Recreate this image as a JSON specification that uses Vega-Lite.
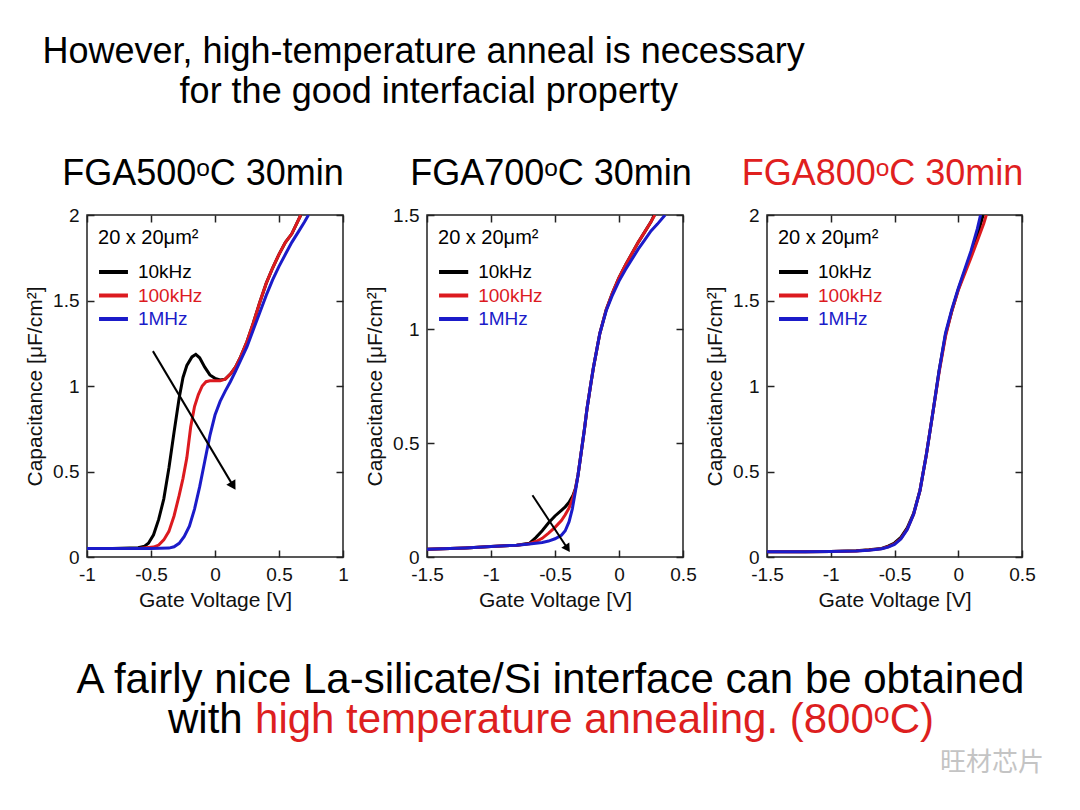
{
"$schema": "https://vega.github.io/schema/vega-lite/v6.json",
"padding": {"left": 23, "top": 0, "right": 5, "bottom": 5},
"background": "white",
"config": {
  "font": "Liberation Sans",
  "view": {"stroke": "#222", "strokeWidth": 1.5},
  "axis": {"domain": false, "grid": false, "tickSize": -7, "tickWidth": 1.5, "tickColor": "#222",
    "labelFont": "Liberation Sans", "labelFontSize": 19, "labelColor": "#111", "labelFlush": false, "labelOverlap": false, "labelPadding": 15,
    "labelExpr": "'' + datum.value",
    "titleFont": "Liberation Sans", "titleFontSize": 21, "titleFontWeight": "normal", "titleColor": "#111", "titlePadding": 5},
  "axisY": {"titlePadding": 7},
  "title": {"font": "Liberation Sans", "fontSize": 36, "fontWeight": "normal", "baseline": "alphabetic", "offset": 13, "anchor": "middle", "color": "#000"}
},
"datasets": {
  "legend": [{"s": "10kHz"}, {"s": "100kHz"}, {"s": "1MHz"}],
  "curves": [
{"p":"FGA500","s":"10kHz","v":-1,"c":0.05},{"p":"FGA500","s":"10kHz","v":-0.8,"c":0.05},{"p":"FGA500","s":"10kHz","v":-0.6,"c":0.054},{"p":"FGA500","s":"10kHz","v":-0.55,"c":0.063},{"p":"FGA500","s":"10kHz","v":-0.52,"c":0.08},{"p":"FGA500","s":"10kHz","v":-0.48,"c":0.13},{"p":"FGA500","s":"10kHz","v":-0.44,"c":0.22},{"p":"FGA500","s":"10kHz","v":-0.4,"c":0.34},{"p":"FGA500","s":"10kHz","v":-0.36,"c":0.52},{"p":"FGA500","s":"10kHz","v":-0.32,"c":0.73},{"p":"FGA500","s":"10kHz","v":-0.28,"c":0.93},{"p":"FGA500","s":"10kHz","v":-0.25,"c":1.05},{"p":"FGA500","s":"10kHz","v":-0.22,"c":1.12},{"p":"FGA500","s":"10kHz","v":-0.18,"c":1.17},{"p":"FGA500","s":"10kHz","v":-0.15,"c":1.185},{"p":"FGA500","s":"10kHz","v":-0.12,"c":1.165},{"p":"FGA500","s":"10kHz","v":-0.08,"c":1.11},{"p":"FGA500","s":"10kHz","v":-0.04,"c":1.065},{"p":"FGA500","s":"10kHz","v":0,"c":1.045},{"p":"FGA500","s":"10kHz","v":0.04,"c":1.035},{"p":"FGA500","s":"10kHz","v":0.08,"c":1.04},{"p":"FGA500","s":"10kHz","v":0.12,"c":1.07},{"p":"FGA500","s":"10kHz","v":0.16,"c":1.11},{"p":"FGA500","s":"10kHz","v":0.2,"c":1.17},{"p":"FGA500","s":"10kHz","v":0.25,"c":1.26},{"p":"FGA500","s":"10kHz","v":0.3,"c":1.37},{"p":"FGA500","s":"10kHz","v":0.35,"c":1.49},{"p":"FGA500","s":"10kHz","v":0.4,"c":1.6},{"p":"FGA500","s":"10kHz","v":0.45,"c":1.69},{"p":"FGA500","s":"10kHz","v":0.5,"c":1.77},{"p":"FGA500","s":"10kHz","v":0.55,"c":1.84},{"p":"FGA500","s":"10kHz","v":0.6,"c":1.89},{"p":"FGA500","s":"10kHz","v":0.67,"c":2.0},
{"p":"FGA500","s":"100kHz","v":-1,"c":0.05},{"p":"FGA500","s":"100kHz","v":-0.6,"c":0.05},{"p":"FGA500","s":"100kHz","v":-0.48,"c":0.058},{"p":"FGA500","s":"100kHz","v":-0.44,"c":0.07},{"p":"FGA500","s":"100kHz","v":-0.4,"c":0.1},{"p":"FGA500","s":"100kHz","v":-0.36,"c":0.15},{"p":"FGA500","s":"100kHz","v":-0.32,"c":0.24},{"p":"FGA500","s":"100kHz","v":-0.28,"c":0.36},{"p":"FGA500","s":"100kHz","v":-0.25,"c":0.46},{"p":"FGA500","s":"100kHz","v":-0.22,"c":0.58},{"p":"FGA500","s":"100kHz","v":-0.19,"c":0.76},{"p":"FGA500","s":"100kHz","v":-0.16,"c":0.88},{"p":"FGA500","s":"100kHz","v":-0.13,"c":0.95},{"p":"FGA500","s":"100kHz","v":-0.1,"c":1.0},{"p":"FGA500","s":"100kHz","v":-0.07,"c":1.025},{"p":"FGA500","s":"100kHz","v":-0.04,"c":1.03},{"p":"FGA500","s":"100kHz","v":0,"c":1.03},{"p":"FGA500","s":"100kHz","v":0.04,"c":1.03},{"p":"FGA500","s":"100kHz","v":0.08,"c":1.04},{"p":"FGA500","s":"100kHz","v":0.12,"c":1.07},{"p":"FGA500","s":"100kHz","v":0.16,"c":1.11},{"p":"FGA500","s":"100kHz","v":0.2,"c":1.17},{"p":"FGA500","s":"100kHz","v":0.25,"c":1.26},{"p":"FGA500","s":"100kHz","v":0.3,"c":1.37},{"p":"FGA500","s":"100kHz","v":0.35,"c":1.49},{"p":"FGA500","s":"100kHz","v":0.4,"c":1.6},{"p":"FGA500","s":"100kHz","v":0.45,"c":1.69},{"p":"FGA500","s":"100kHz","v":0.5,"c":1.77},{"p":"FGA500","s":"100kHz","v":0.55,"c":1.84},{"p":"FGA500","s":"100kHz","v":0.6,"c":1.89},{"p":"FGA500","s":"100kHz","v":0.67,"c":2.0},
{"p":"FGA500","s":"1MHz","v":-1,"c":0.05},{"p":"FGA500","s":"1MHz","v":-0.5,"c":0.05},{"p":"FGA500","s":"1MHz","v":-0.36,"c":0.052},{"p":"FGA500","s":"1MHz","v":-0.32,"c":0.06},{"p":"FGA500","s":"1MHz","v":-0.28,"c":0.08},{"p":"FGA500","s":"1MHz","v":-0.24,"c":0.12},{"p":"FGA500","s":"1MHz","v":-0.2,"c":0.18},{"p":"FGA500","s":"1MHz","v":-0.16,"c":0.28},{"p":"FGA500","s":"1MHz","v":-0.12,"c":0.41},{"p":"FGA500","s":"1MHz","v":-0.08,"c":0.56},{"p":"FGA500","s":"1MHz","v":-0.04,"c":0.71},{"p":"FGA500","s":"1MHz","v":0,"c":0.83},{"p":"FGA500","s":"1MHz","v":0.04,"c":0.91},{"p":"FGA500","s":"1MHz","v":0.08,"c":0.97},{"p":"FGA500","s":"1MHz","v":0.12,"c":1.025},{"p":"FGA500","s":"1MHz","v":0.16,"c":1.085},{"p":"FGA500","s":"1MHz","v":0.2,"c":1.15},{"p":"FGA500","s":"1MHz","v":0.25,"c":1.23},{"p":"FGA500","s":"1MHz","v":0.3,"c":1.33},{"p":"FGA500","s":"1MHz","v":0.35,"c":1.43},{"p":"FGA500","s":"1MHz","v":0.4,"c":1.53},{"p":"FGA500","s":"1MHz","v":0.45,"c":1.62},{"p":"FGA500","s":"1MHz","v":0.5,"c":1.7},{"p":"FGA500","s":"1MHz","v":0.55,"c":1.77},{"p":"FGA500","s":"1MHz","v":0.6,"c":1.84},{"p":"FGA500","s":"1MHz","v":0.65,"c":1.9},{"p":"FGA500","s":"1MHz","v":0.7,"c":1.96},{"p":"FGA500","s":"1MHz","v":0.73,"c":2.0},
{"p":"FGA700","s":"10kHz","v":-1.5,"c":0.034},{"p":"FGA700","s":"10kHz","v":-1.2,"c":0.04},{"p":"FGA700","s":"10kHz","v":-1,"c":0.046},{"p":"FGA700","s":"10kHz","v":-0.8,"c":0.052},{"p":"FGA700","s":"10kHz","v":-0.7,"c":0.06},{"p":"FGA700","s":"10kHz","v":-0.65,"c":0.085},{"p":"FGA700","s":"10kHz","v":-0.6,"c":0.115},{"p":"FGA700","s":"10kHz","v":-0.55,"c":0.15},{"p":"FGA700","s":"10kHz","v":-0.5,"c":0.18},{"p":"FGA700","s":"10kHz","v":-0.45,"c":0.205},{"p":"FGA700","s":"10kHz","v":-0.42,"c":0.22},{"p":"FGA700","s":"10kHz","v":-0.39,"c":0.24},{"p":"FGA700","s":"10kHz","v":-0.36,"c":0.27},{"p":"FGA700","s":"10kHz","v":-0.34,"c":0.3},{"p":"FGA700","s":"10kHz","v":-0.32,"c":0.36},{"p":"FGA700","s":"10kHz","v":-0.3,"c":0.44},{"p":"FGA700","s":"10kHz","v":-0.27,"c":0.56},{"p":"FGA700","s":"10kHz","v":-0.25,"c":0.65},{"p":"FGA700","s":"10kHz","v":-0.22,"c":0.76},{"p":"FGA700","s":"10kHz","v":-0.2,"c":0.83},{"p":"FGA700","s":"10kHz","v":-0.17,"c":0.92},{"p":"FGA700","s":"10kHz","v":-0.15,"c":0.98},{"p":"FGA700","s":"10kHz","v":-0.1,"c":1.085},{"p":"FGA700","s":"10kHz","v":-0.05,"c":1.16},{"p":"FGA700","s":"10kHz","v":0,"c":1.225},{"p":"FGA700","s":"10kHz","v":0.05,"c":1.28},{"p":"FGA700","s":"10kHz","v":0.1,"c":1.33},{"p":"FGA700","s":"10kHz","v":0.15,"c":1.38},{"p":"FGA700","s":"10kHz","v":0.2,"c":1.425},{"p":"FGA700","s":"10kHz","v":0.25,"c":1.47},{"p":"FGA700","s":"10kHz","v":0.275,"c":1.5},
{"p":"FGA700","s":"100kHz","v":-1.5,"c":0.034},{"p":"FGA700","s":"100kHz","v":-1.2,"c":0.04},{"p":"FGA700","s":"100kHz","v":-1,"c":0.046},{"p":"FGA700","s":"100kHz","v":-0.8,"c":0.052},{"p":"FGA700","s":"100kHz","v":-0.7,"c":0.058},{"p":"FGA700","s":"100kHz","v":-0.65,"c":0.068},{"p":"FGA700","s":"100kHz","v":-0.6,"c":0.082},{"p":"FGA700","s":"100kHz","v":-0.55,"c":0.105},{"p":"FGA700","s":"100kHz","v":-0.5,"c":0.13},{"p":"FGA700","s":"100kHz","v":-0.45,"c":0.16},{"p":"FGA700","s":"100kHz","v":-0.42,"c":0.185},{"p":"FGA700","s":"100kHz","v":-0.39,"c":0.215},{"p":"FGA700","s":"100kHz","v":-0.36,"c":0.26},{"p":"FGA700","s":"100kHz","v":-0.34,"c":0.3},{"p":"FGA700","s":"100kHz","v":-0.32,"c":0.36},{"p":"FGA700","s":"100kHz","v":-0.3,"c":0.44},{"p":"FGA700","s":"100kHz","v":-0.27,"c":0.56},{"p":"FGA700","s":"100kHz","v":-0.25,"c":0.65},{"p":"FGA700","s":"100kHz","v":-0.22,"c":0.76},{"p":"FGA700","s":"100kHz","v":-0.2,"c":0.83},{"p":"FGA700","s":"100kHz","v":-0.17,"c":0.92},{"p":"FGA700","s":"100kHz","v":-0.15,"c":0.98},{"p":"FGA700","s":"100kHz","v":-0.1,"c":1.085},{"p":"FGA700","s":"100kHz","v":-0.05,"c":1.16},{"p":"FGA700","s":"100kHz","v":0,"c":1.225},{"p":"FGA700","s":"100kHz","v":0.05,"c":1.28},{"p":"FGA700","s":"100kHz","v":0.1,"c":1.33},{"p":"FGA700","s":"100kHz","v":0.15,"c":1.38},{"p":"FGA700","s":"100kHz","v":0.2,"c":1.425},{"p":"FGA700","s":"100kHz","v":0.25,"c":1.47},{"p":"FGA700","s":"100kHz","v":0.28,"c":1.5},
{"p":"FGA700","s":"1MHz","v":-1.5,"c":0.034},{"p":"FGA700","s":"1MHz","v":-1.2,"c":0.04},{"p":"FGA700","s":"1MHz","v":-1,"c":0.046},{"p":"FGA700","s":"1MHz","v":-0.8,"c":0.052},{"p":"FGA700","s":"1MHz","v":-0.7,"c":0.057},{"p":"FGA700","s":"1MHz","v":-0.6,"c":0.064},{"p":"FGA700","s":"1MHz","v":-0.55,"c":0.07},{"p":"FGA700","s":"1MHz","v":-0.5,"c":0.08},{"p":"FGA700","s":"1MHz","v":-0.45,"c":0.095},{"p":"FGA700","s":"1MHz","v":-0.42,"c":0.115},{"p":"FGA700","s":"1MHz","v":-0.39,"c":0.155},{"p":"FGA700","s":"1MHz","v":-0.365,"c":0.21},{"p":"FGA700","s":"1MHz","v":-0.34,"c":0.29},{"p":"FGA700","s":"1MHz","v":-0.32,"c":0.36},{"p":"FGA700","s":"1MHz","v":-0.3,"c":0.44},{"p":"FGA700","s":"1MHz","v":-0.27,"c":0.56},{"p":"FGA700","s":"1MHz","v":-0.25,"c":0.65},{"p":"FGA700","s":"1MHz","v":-0.22,"c":0.76},{"p":"FGA700","s":"1MHz","v":-0.2,"c":0.83},{"p":"FGA700","s":"1MHz","v":-0.17,"c":0.92},{"p":"FGA700","s":"1MHz","v":-0.15,"c":0.98},{"p":"FGA700","s":"1MHz","v":-0.1,"c":1.08},{"p":"FGA700","s":"1MHz","v":-0.05,"c":1.15},{"p":"FGA700","s":"1MHz","v":0,"c":1.21},{"p":"FGA700","s":"1MHz","v":0.05,"c":1.26},{"p":"FGA700","s":"1MHz","v":0.1,"c":1.305},{"p":"FGA700","s":"1MHz","v":0.15,"c":1.35},{"p":"FGA700","s":"1MHz","v":0.2,"c":1.39},{"p":"FGA700","s":"1MHz","v":0.25,"c":1.43},{"p":"FGA700","s":"1MHz","v":0.3,"c":1.46},{"p":"FGA700","s":"1MHz","v":0.36,"c":1.5},
{"p":"FGA800","s":"10kHz","v":-1.5,"c":0.03},{"p":"FGA800","s":"10kHz","v":-1.2,"c":0.03},{"p":"FGA800","s":"10kHz","v":-1,"c":0.032},{"p":"FGA800","s":"10kHz","v":-0.8,"c":0.036},{"p":"FGA800","s":"10kHz","v":-0.7,"c":0.042},{"p":"FGA800","s":"10kHz","v":-0.6,"c":0.05},{"p":"FGA800","s":"10kHz","v":-0.55,"c":0.064},{"p":"FGA800","s":"10kHz","v":-0.5,"c":0.082},{"p":"FGA800","s":"10kHz","v":-0.45,"c":0.115},{"p":"FGA800","s":"10kHz","v":-0.4,"c":0.17},{"p":"FGA800","s":"10kHz","v":-0.35,"c":0.255},{"p":"FGA800","s":"10kHz","v":-0.3,"c":0.39},{"p":"FGA800","s":"10kHz","v":-0.25,"c":0.6},{"p":"FGA800","s":"10kHz","v":-0.2,"c":0.84},{"p":"FGA800","s":"10kHz","v":-0.15,"c":1.09},{"p":"FGA800","s":"10kHz","v":-0.1,"c":1.3},{"p":"FGA800","s":"10kHz","v":-0.05,"c":1.44},{"p":"FGA800","s":"10kHz","v":0,"c":1.565},{"p":"FGA800","s":"10kHz","v":0.05,"c":1.67},{"p":"FGA800","s":"10kHz","v":0.1,"c":1.77},{"p":"FGA800","s":"10kHz","v":0.15,"c":1.88},{"p":"FGA800","s":"10kHz","v":0.195,"c":2.0},
{"p":"FGA800","s":"100kHz","v":-1.5,"c":0.03},{"p":"FGA800","s":"100kHz","v":-1.2,"c":0.03},{"p":"FGA800","s":"100kHz","v":-1,"c":0.032},{"p":"FGA800","s":"100kHz","v":-0.8,"c":0.035},{"p":"FGA800","s":"100kHz","v":-0.7,"c":0.041},{"p":"FGA800","s":"100kHz","v":-0.6,"c":0.049},{"p":"FGA800","s":"100kHz","v":-0.55,"c":0.06},{"p":"FGA800","s":"100kHz","v":-0.5,"c":0.077},{"p":"FGA800","s":"100kHz","v":-0.45,"c":0.108},{"p":"FGA800","s":"100kHz","v":-0.4,"c":0.163},{"p":"FGA800","s":"100kHz","v":-0.35,"c":0.25},{"p":"FGA800","s":"100kHz","v":-0.3,"c":0.39},{"p":"FGA800","s":"100kHz","v":-0.25,"c":0.6},{"p":"FGA800","s":"100kHz","v":-0.2,"c":0.84},{"p":"FGA800","s":"100kHz","v":-0.15,"c":1.08},{"p":"FGA800","s":"100kHz","v":-0.1,"c":1.29},{"p":"FGA800","s":"100kHz","v":-0.05,"c":1.44},{"p":"FGA800","s":"100kHz","v":0,"c":1.56},{"p":"FGA800","s":"100kHz","v":0.05,"c":1.655},{"p":"FGA800","s":"100kHz","v":0.1,"c":1.75},{"p":"FGA800","s":"100kHz","v":0.15,"c":1.85},{"p":"FGA800","s":"100kHz","v":0.2,"c":1.95},{"p":"FGA800","s":"100kHz","v":0.22,"c":2.0},
{"p":"FGA800","s":"1MHz","v":-1.5,"c":0.03},{"p":"FGA800","s":"1MHz","v":-1.2,"c":0.03},{"p":"FGA800","s":"1MHz","v":-1,"c":0.032},{"p":"FGA800","s":"1MHz","v":-0.8,"c":0.035},{"p":"FGA800","s":"1MHz","v":-0.7,"c":0.04},{"p":"FGA800","s":"1MHz","v":-0.6,"c":0.048},{"p":"FGA800","s":"1MHz","v":-0.55,"c":0.058},{"p":"FGA800","s":"1MHz","v":-0.5,"c":0.074},{"p":"FGA800","s":"1MHz","v":-0.45,"c":0.105},{"p":"FGA800","s":"1MHz","v":-0.4,"c":0.16},{"p":"FGA800","s":"1MHz","v":-0.35,"c":0.25},{"p":"FGA800","s":"1MHz","v":-0.3,"c":0.39},{"p":"FGA800","s":"1MHz","v":-0.25,"c":0.6},{"p":"FGA800","s":"1MHz","v":-0.2,"c":0.84},{"p":"FGA800","s":"1MHz","v":-0.15,"c":1.09},{"p":"FGA800","s":"1MHz","v":-0.1,"c":1.31},{"p":"FGA800","s":"1MHz","v":-0.05,"c":1.45},{"p":"FGA800","s":"1MHz","v":0,"c":1.57},{"p":"FGA800","s":"1MHz","v":0.05,"c":1.68},{"p":"FGA800","s":"1MHz","v":0.1,"c":1.79},{"p":"FGA800","s":"1MHz","v":0.15,"c":1.92},{"p":"FGA800","s":"1MHz","v":0.175,"c":2.0}
  ]
},
"spacing": 0,
"bounds": "full",
"vconcat": [
  {
    "width": 935, "height": 155,
    "view": {"stroke": null},
    "data": {"values": [{}]},
    "layer": [
      {"mark": {"type": "text", "text": "However, high-temperature anneal is necessary", "fontSize": 36, "align": "center", "baseline": "alphabetic", "color": "#000"},
       "encoding": {"x": {"datum": 0.36, "type": "quantitative", "scale": {"domain": [0, 1]}, "axis": null},
                    "y": {"datum": 0.4065, "type": "quantitative", "scale": {"domain": [0, 1], "reverse": true}, "axis": null}}},
      {"mark": {"type": "text", "text": "for the good interfacial property", "fontSize": 36, "align": "center", "baseline": "alphabetic", "color": "#000"},
       "encoding": {"x": {"datum": 0.3655, "type": "quantitative", "scale": {"domain": [0, 1]}, "axis": null},
                    "y": {"datum": 0.6645, "type": "quantitative", "scale": {"domain": [0, 1], "reverse": true}, "axis": null}}}
    ]
  },
  {
    "hconcat": [
      {
        "width": 256, "height": 342,
        "title": {"text": "FGA500ᵒC 30min", "dx": -12},
        "layer": [
          {"data": {"name": "curves"}, "transform": [{"filter": "datum.p == 'FGA500'"}],
           "mark": {"type": "line", "strokeWidth": 3, "clip": true},
           "encoding": {
             "x": {"field": "v", "type": "quantitative", "scale": {"domain": [-1, 1], "nice": false}, "axis": {"orient": "bottom", "values": [-1, -0.5, 0, 0.5, 1], "title": "Gate Voltage [V]"}},
             "y": {"field": "c", "type": "quantitative", "scale": {"domain": [0, 2], "nice": false}, "axis": {"orient": "left", "values": [0, 0.5, 1, 1.5, 2], "title": "Capacitance [μF/cm²]"}},
             "color": {"field": "s", "type": "nominal", "scale": {"domain": ["10kHz", "100kHz", "1MHz"], "range": ["#000000", "#dc1a1f", "#1b1bc9"]}, "legend": null}}},
          {"data": {"name": "curves"}, "transform": [{"filter": "datum.p == 'FGA500'"}],
           "mark": {"type": "point", "opacity": 0},
           "encoding": {
             "x": {"field": "v", "type": "quantitative", "scale": {"domain": [-1, 1], "nice": false}, "axis": {"orient": "top", "values": [-1, -0.5, 0, 0.5, 1], "labels": false, "title": null}},
             "y": {"field": "c", "type": "quantitative", "scale": {"domain": [0, 2], "nice": false}, "axis": {"orient": "right", "values": [0, 0.5, 1, 1.5, 2], "labels": false, "title": null}}}},
          {"data": {"name": "legend"},
           "mark": {"type": "rule", "strokeWidth": 4},
           "encoding": {
             "x": {"datum": -0.906, "type": "quantitative", "scale": {"domain": [-1, 1], "nice": false}, "axis": null},
             "x2": {"datum": -0.68},
             "y": {"field": "s", "type": "nominal", "scale": {"type": "point", "domain": ["10kHz", "100kHz", "1MHz"], "range": [57, 104], "padding": 0}, "axis": null},
             "color": {"field": "s", "type": "nominal", "legend": null}}},
          {"data": {"name": "legend"},
           "mark": {"type": "text", "align": "left", "baseline": "middle", "fontSize": 19},
           "encoding": {
             "x": {"datum": -0.602, "type": "quantitative", "scale": {"domain": [-1, 1], "nice": false}, "axis": null},
             "y": {"field": "s", "type": "nominal", "scale": {"type": "point", "domain": ["10kHz", "100kHz", "1MHz"], "range": [57, 104], "padding": 0}, "axis": null},
             "text": {"field": "s"},
             "color": {"field": "s", "type": "nominal", "legend": null}}},
          {"data": {"values": [{}]},
           "mark": {"type": "text", "text": "20 x 20μm²", "align": "left", "baseline": "middle", "fontSize": 20, "color": "#000"},
           "encoding": {
             "x": {"datum": -0.914, "type": "quantitative", "scale": {"domain": [-1, 1], "nice": false}, "axis": null},
             "y": {"datum": 1.865, "type": "quantitative", "scale": {"domain": [0, 2], "nice": false}, "axis": null}}},
          {"data": {"values": [{}]},
           "mark": {"type": "rule", "strokeWidth": 2, "color": "#000"},
           "encoding": {
             "x": {"datum": -0.485, "type": "quantitative", "scale": {"domain": [-1, 1], "nice": false}, "axis": null},
             "y": {"datum": 1.204, "type": "quantitative", "scale": {"domain": [0, 2], "nice": false}, "axis": null},
             "x2": {"datum": 0.142}, "y2": {"datum": 0.416}}},
          {"data": {"values": [{}]},
           "mark": {"type": "point", "shape": "triangle-up", "filled": true, "size": 110, "angle": 149, "color": "#000", "opacity": 1},
           "encoding": {
             "x": {"datum": 0.142, "type": "quantitative", "scale": {"domain": [-1, 1], "nice": false}, "axis": null},
             "y": {"datum": 0.416, "type": "quantitative", "scale": {"domain": [0, 2], "nice": false}, "axis": null}}}
        ],
        "resolve": {"scale": {"y": "independent"}, "axis": {"x": "independent", "y": "independent"}}
      },
      {
        "width": 256, "height": 342,
        "title": {"text": "FGA700ᵒC 30min", "dx": -4},
        "layer": [
          {"data": {"name": "curves"}, "transform": [{"filter": "datum.p == 'FGA700'"}],
           "mark": {"type": "line", "strokeWidth": 3, "clip": true},
           "encoding": {
             "x": {"field": "v", "type": "quantitative", "scale": {"domain": [-1.5, 0.5], "nice": false}, "axis": {"orient": "bottom", "values": [-1.5, -1, -0.5, 0, 0.5], "title": "Gate Voltage [V]"}},
             "y": {"field": "c", "type": "quantitative", "scale": {"domain": [0, 1.5], "nice": false}, "axis": {"orient": "left", "values": [0, 0.5, 1, 1.5], "title": "Capacitance [μF/cm²]"}},
             "color": {"field": "s", "type": "nominal", "scale": {"domain": ["10kHz", "100kHz", "1MHz"], "range": ["#000000", "#dc1a1f", "#1b1bc9"]}, "legend": null}}},
          {"data": {"name": "curves"}, "transform": [{"filter": "datum.p == 'FGA700'"}],
           "mark": {"type": "point", "opacity": 0},
           "encoding": {
             "x": {"field": "v", "type": "quantitative", "scale": {"domain": [-1.5, 0.5], "nice": false}, "axis": {"orient": "top", "values": [-1.5, -1, -0.5, 0, 0.5], "labels": false, "title": null}},
             "y": {"field": "c", "type": "quantitative", "scale": {"domain": [0, 1.5], "nice": false}, "axis": {"orient": "right", "values": [0, 0.5, 1, 1.5], "labels": false, "title": null}}}},
          {"data": {"name": "legend"},
           "mark": {"type": "rule", "strokeWidth": 4},
           "encoding": {
             "x": {"datum": -1.406, "type": "quantitative", "scale": {"domain": [-1.5, 0.5], "nice": false}, "axis": null},
             "x2": {"datum": -1.178},
             "y": {"field": "s", "type": "nominal", "scale": {"type": "point", "domain": ["10kHz", "100kHz", "1MHz"], "range": [57, 104], "padding": 0}, "axis": null},
             "color": {"field": "s", "type": "nominal", "legend": null}}},
          {"data": {"name": "legend"},
           "mark": {"type": "text", "align": "left", "baseline": "middle", "fontSize": 19},
           "encoding": {
             "x": {"datum": -1.1, "type": "quantitative", "scale": {"domain": [-1.5, 0.5], "nice": false}, "axis": null},
             "y": {"field": "s", "type": "nominal", "scale": {"type": "point", "domain": ["10kHz", "100kHz", "1MHz"], "range": [57, 104], "padding": 0}, "axis": null},
             "text": {"field": "s"},
             "color": {"field": "s", "type": "nominal", "legend": null}}},
          {"data": {"values": [{}]},
           "mark": {"type": "text", "text": "20 x 20μm²", "align": "left", "baseline": "middle", "fontSize": 20, "color": "#000"},
           "encoding": {
             "x": {"datum": -1.414, "type": "quantitative", "scale": {"domain": [-1.5, 0.5], "nice": false}, "axis": null},
             "y": {"datum": 1.399, "type": "quantitative", "scale": {"domain": [0, 1.5], "nice": false}, "axis": null}}},
          {"data": {"values": [{}]},
           "mark": {"type": "rule", "strokeWidth": 2, "color": "#000"},
           "encoding": {
             "x": {"datum": -0.676, "type": "quantitative", "scale": {"domain": [-1.5, 0.5], "nice": false}, "axis": null},
             "y": {"datum": 0.271, "type": "quantitative", "scale": {"domain": [0, 1.5], "nice": false}, "axis": null},
             "x2": {"datum": -0.402}, "y2": {"datum": 0.037}}},
          {"data": {"values": [{}]},
           "mark": {"type": "point", "shape": "triangle-up", "filled": true, "size": 90, "angle": 147, "color": "#000", "opacity": 1},
           "encoding": {
             "x": {"datum": -0.402, "type": "quantitative", "scale": {"domain": [-1.5, 0.5], "nice": false}, "axis": null},
             "y": {"datum": 0.037, "type": "quantitative", "scale": {"domain": [0, 1.5], "nice": false}, "axis": null}}}
        ],
        "resolve": {"scale": {"y": "independent"}, "axis": {"x": "independent", "y": "independent"}}
      },
      {
        "width": 255, "height": 342,
        "title": {"text": "FGA800ᵒC 30min", "color": "#e0201e", "dx": -12},
        "layer": [
          {"data": {"name": "curves"}, "transform": [{"filter": "datum.p == 'FGA800'"}],
           "mark": {"type": "line", "strokeWidth": 3, "clip": true},
           "encoding": {
             "x": {"field": "v", "type": "quantitative", "scale": {"domain": [-1.5, 0.5], "nice": false}, "axis": {"orient": "bottom", "values": [-1.5, -1, -0.5, 0, 0.5], "title": "Gate Voltage [V]"}},
             "y": {"field": "c", "type": "quantitative", "scale": {"domain": [0, 2], "nice": false}, "axis": {"orient": "left", "values": [0, 0.5, 1, 1.5, 2], "title": "Capacitance [μF/cm²]"}},
             "color": {"field": "s", "type": "nominal", "scale": {"domain": ["10kHz", "100kHz", "1MHz"], "range": ["#000000", "#dc1a1f", "#1b1bc9"]}, "legend": null}}},
          {"data": {"name": "curves"}, "transform": [{"filter": "datum.p == 'FGA800'"}],
           "mark": {"type": "point", "opacity": 0},
           "encoding": {
             "x": {"field": "v", "type": "quantitative", "scale": {"domain": [-1.5, 0.5], "nice": false}, "axis": {"orient": "top", "values": [-1.5, -1, -0.5, 0, 0.5], "labels": false, "title": null}},
             "y": {"field": "c", "type": "quantitative", "scale": {"domain": [0, 2], "nice": false}, "axis": {"orient": "right", "values": [0, 0.5, 1, 1.5, 2], "labels": false, "title": null}}}},
          {"data": {"name": "legend"},
           "mark": {"type": "rule", "strokeWidth": 4},
           "encoding": {
             "x": {"datum": -1.406, "type": "quantitative", "scale": {"domain": [-1.5, 0.5], "nice": false}, "axis": null},
             "x2": {"datum": -1.178},
             "y": {"field": "s", "type": "nominal", "scale": {"type": "point", "domain": ["10kHz", "100kHz", "1MHz"], "range": [57, 104], "padding": 0}, "axis": null},
             "color": {"field": "s", "type": "nominal", "legend": null}}},
          {"data": {"name": "legend"},
           "mark": {"type": "text", "align": "left", "baseline": "middle", "fontSize": 19},
           "encoding": {
             "x": {"datum": -1.1, "type": "quantitative", "scale": {"domain": [-1.5, 0.5], "nice": false}, "axis": null},
             "y": {"field": "s", "type": "nominal", "scale": {"type": "point", "domain": ["10kHz", "100kHz", "1MHz"], "range": [57, 104], "padding": 0}, "axis": null},
             "text": {"field": "s"},
             "color": {"field": "s", "type": "nominal", "legend": null}}},
          {"data": {"values": [{}]},
           "mark": {"type": "text", "text": "20 x 20μm²", "align": "left", "baseline": "middle", "fontSize": 20, "color": "#000"},
           "encoding": {
             "x": {"datum": -1.414, "type": "quantitative", "scale": {"domain": [-1.5, 0.5], "nice": false}, "axis": null},
             "y": {"datum": 1.865, "type": "quantitative", "scale": {"domain": [0, 2], "nice": false}, "axis": null}}}
        ],
        "resolve": {"scale": {"y": "independent"}, "axis": {"x": "independent", "y": "independent"}}
      }
    ],
    "spacing": 84,
    "bounds": "flush"
  },
  {
    "width": 935, "height": 190,
    "view": {"stroke": null},
    "data": {"values": [{}]},
    "layer": [
      {"mark": {"type": "text", "text": "A fairly nice La-silicate/Si interface can be obtained", "fontSize": 42, "align": "center", "baseline": "alphabetic", "color": "#000"},
       "encoding": {"x": {"datum": 0.4957, "type": "quantitative", "scale": {"domain": [0, 1]}, "axis": null},
                    "y": {"datum": 0.43, "type": "quantitative", "scale": {"domain": [0, 1], "reverse": true}, "axis": null}}},
      {"mark": {"type": "text", "text": "with", "fontSize": 42, "align": "left", "baseline": "alphabetic", "color": "#000"},
       "encoding": {"x": {"datum": 0.0866, "type": "quantitative", "scale": {"domain": [0, 1]}, "axis": null},
                    "y": {"datum": 0.641, "type": "quantitative", "scale": {"domain": [0, 1], "reverse": true}, "axis": null}}},
      {"mark": {"type": "text", "text": "high temperature annealing. (800ᵒC)", "fontSize": 42, "align": "left", "baseline": "alphabetic", "color": "#dd1f1f"},
       "encoding": {"x": {"datum": 0.1797, "type": "quantitative", "scale": {"domain": [0, 1]}, "axis": null},
                    "y": {"datum": 0.641, "type": "quantitative", "scale": {"domain": [0, 1], "reverse": true}, "axis": null}}},
      {"mark": {"type": "text", "text": "旺材芯片", "font": "Noto Sans CJK SC", "fontSize": 26, "align": "left", "baseline": "middle", "color": "#c4c4c4"},
       "encoding": {"x": {"datum": 0.9123, "type": "quantitative", "scale": {"domain": [0, 1]}, "axis": null},
                    "y": {"datum": 0.8, "type": "quantitative", "scale": {"domain": [0, 1], "reverse": true}, "axis": null}}}
    ]
  }
]
}
